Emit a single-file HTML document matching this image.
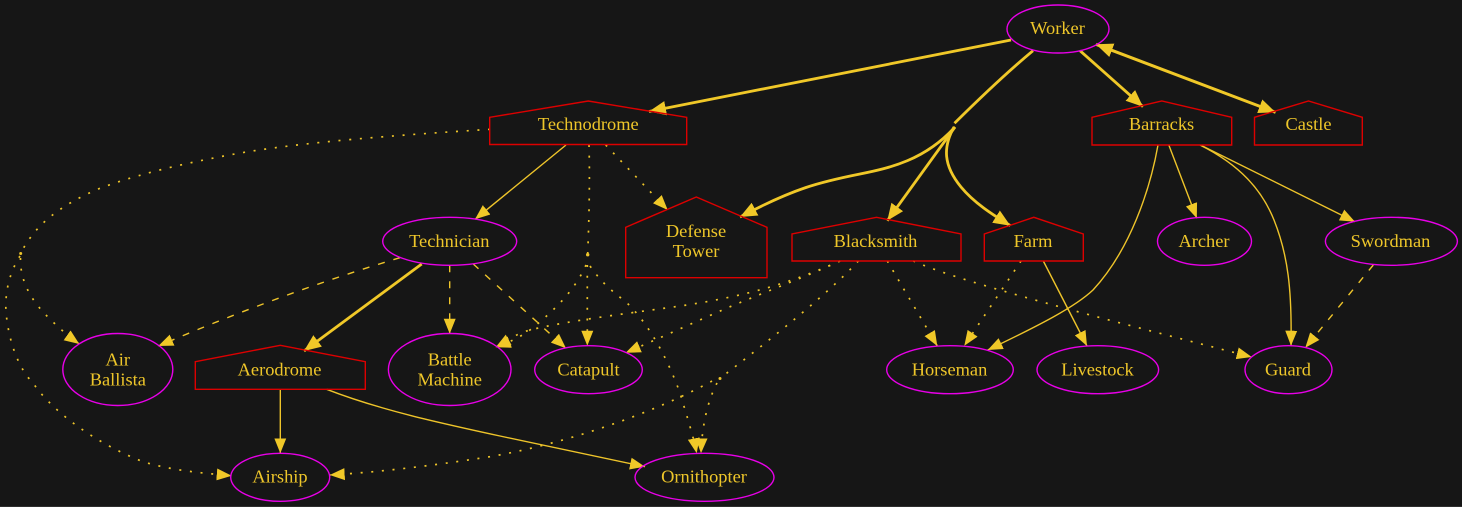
<!DOCTYPE html>
<html>
<head>
<meta charset="utf-8">
<style>
html,body{margin:0;padding:0;background:#161616;width:1462px;height:507px;overflow:hidden}
svg{position:absolute;left:0;top:0;display:block}
text{font-family:"Liberation Serif",serif;font-size:18.4px;fill:#eec62a;text-anchor:middle}
.n{fill:none;stroke:#e800e8;stroke-width:1.4}
.h{fill:none;stroke:#dd0000;stroke-width:1.4}
.e{fill:none;stroke:#eec42a;stroke-width:1.4;marker-end:url(#a)}
.t{fill:none;stroke:#f0c828;stroke-width:2.8;marker-end:url(#b)}
.k{fill:none;stroke:#f0c828;stroke-width:2.8}
.d{stroke-dasharray:7 9}
.o{stroke-dasharray:2 8.7;stroke-width:1.7}
.p{fill:none;stroke:#eec42a;stroke-width:1.7;stroke-dasharray:2 8.7}
</style>
</head>
<body>
<svg width="1462" height="507" viewBox="0 0 1462 507" xmlns="http://www.w3.org/2000/svg">
<defs>
<marker id="a" markerUnits="userSpaceOnUse" markerWidth="18" markerHeight="14" refX="15" refY="6.5" orient="auto"><path d="M0,0.5 L15,6.5 L0,12.5 Z" fill="#f0c828"/></marker>
<marker id="b" markerUnits="userSpaceOnUse" markerWidth="20" markerHeight="16" refX="17" refY="7.5" orient="auto-start-reverse"><path d="M0,0.3 L17,7.5 L0,14.7 Z" fill="#f0c828"/></marker>
</defs>
<rect x="0" y="0" width="1462" height="507" fill="#161616"/>
<rect x="0" y="506" width="1462" height="1" fill="#2e2e2e"/>

<!-- thick edges -->
<path class="t" d="M1011,40 L649,111.5"/>
<path class="k" d="M1033,50.7 C1005,74 980,98 954.5,123.3"/>
<path class="t" d="M955,127 C925,160 890,168 860,174 C820,182 795,188 740,217"/>
<path class="t" d="M955,127 L887.3,220.7"/>
<path class="t" d="M954,127 C943,147 943,165 961,187 C975,204 995,216 1010.4,225.7"/>
<path class="t" d="M1080,50.7 L1143,106.7"/>
<path class="t" style="marker-start:url(#b);stroke-width:3" d="M1096,44.3 L1275.6,112.3"/>
<path class="t" d="M421.7,264 L304,351"/>

<!-- thin solid edges -->
<path class="e" d="M566,145 L475,219.3"/>
<path class="e" d="M1168.8,145 L1196.8,218.3"/>
<path class="e" d="M1200.4,145 L1355,221.7"/>
<path class="e" d="M1200,145 C1240,165 1262,190 1274,220 C1288,255 1292,290 1291,345.7"/>
<path class="e" d="M1158,145 C1150,190 1130,250 1093,290 C1075,307 1040,325 987.7,350"/>
<path class="e" d="M1043.3,261 L1087,346"/>
<path class="e" d="M280.3,389.3 L280.3,453.3"/>
<path class="e" d="M326.7,389.3 C380,410 440,423 500,436 L645,466.7"/>

<!-- dashed edges -->
<path class="e d" d="M400,257.7 Q285,292 158.3,346"/>
<path class="e d" d="M449.7,265.3 L449.7,333.7"/>
<path class="e d" d="M473.3,264 L566,348.3"/>
<path class="e d" d="M1373.3,265 L1305.3,347.7"/>

<!-- dotted edges -->
<path class="p" d="M490,129.3 C400,135 300,142 233,154.3 C170,166 130,177 100,188.3 C60,205 35,225 20.7,253.3"/>
<circle cx="20.7" cy="253.5" r="1.5" fill="#eec42a"/>
<path class="e o" d="M20.5,258 C20,280 30,300 50,319 C58,327 68,336 79.3,344"/>
<path class="e o" d="M20,256 C8,275 5,295 6,312 C9,345 20,370 33,383 C55,415 100,445 143,461.7 C170,470 200,473 231.7,475.7"/>
<path class="p" d="M589,145 C590,180 589,220 587.7,254"/>
<circle cx="587.7" cy="254.7" r="1.7" fill="#eec42a"/>
<path class="e o" d="M586,265 C575,290 555,310 530,330 C520,337 510,342 495.7,347.3"/>
<path class="e o" d="M587.3,265 L587.3,345.7"/>
<path class="e o" d="M590,266 C603,285 615,293 627,303 C650,325 668,360 680,393 C688,420 693,435 696.7,453.3"/>
<path class="e o" d="M605.7,145 L667.7,210"/>
<path class="e o" d="M840,261 C790,283 750,295 687,305 C640,312 570,320 530,330 C515,334 505,342 495.7,347.3"/>
<path class="e o" d="M840,261 C810,275 770,290 727,308 C695,322 660,338 625.7,352.7"/>
<path class="p" d="M858.3,261 C830,292 770,340 720,378.3"/>
<circle cx="720" cy="378.5" r="1.5" fill="#eec42a"/>
<path class="e o" d="M717,383 C708,400 702,425 701,453.3"/>
<path class="e o" d="M712,381 C650,415 560,445 488,457 C430,466 380,472 329.7,475"/>
<path class="e o" d="M887.3,261 L937.3,346"/>
<path class="e o" d="M913.3,261 C960,282 1100,318 1251.7,357"/>
<path class="e o" d="M1021,261 L964.3,345.7"/>

<!-- nodes -->
<ellipse class="n" cx="1058" cy="29" rx="51" ry="24"/>
<text x="1057.5" y="34">Worker</text>
<polygon class="h" points="489.7,144.5 686.7,144.5 686.7,117.3 588.3,101 489.7,117.3"/>
<text x="588.3" y="130">Technodrome</text>
<polygon class="h" points="1092,145 1231.7,145 1231.7,117.3 1161.8,101 1092,117.3"/>
<text x="1161.5" y="130">Barracks</text>
<polygon class="h" points="1254.5,145 1362.3,145 1362.3,117.3 1308.5,101 1254.5,117.3"/>
<text x="1308.5" y="130">Castle</text>
<ellipse class="n" cx="449.7" cy="241.3" rx="67" ry="24"/>
<text x="449.3" y="247">Technician</text>
<polygon class="h" points="625.7,277.7 767,277.7 767,227.3 696.3,197 625.7,227.3"/>
<text x="696" y="237">Defense</text>
<text x="696" y="257">Tower</text>
<polygon class="h" points="792,261 961,261 961,234 876.5,217.3 792,234"/>
<text x="875.5" y="247">Blacksmith</text>
<polygon class="h" points="984.3,261 1083.3,261 1083.3,234 1033.8,217.3 984.3,234"/>
<text x="1033" y="247">Farm</text>
<ellipse class="n" cx="1204.5" cy="241.3" rx="47" ry="24"/>
<text x="1204" y="247">Archer</text>
<ellipse class="n" cx="1391.4" cy="241.3" rx="66" ry="24"/>
<text x="1390.5" y="247">Swordman</text>
<ellipse class="n" cx="117.8" cy="369.5" rx="55" ry="36"/>
<text x="117.8" y="365.3">Air</text>
<text x="117.8" y="385.3">Ballista</text>
<polygon class="h" points="195.3,389.3 365.3,389.3 365.3,361.7 280.3,345.3 195.3,361.7"/>
<text x="279.5" y="375.3">Aerodrome</text>
<ellipse class="n" cx="449.7" cy="369.5" rx="61.3" ry="36"/>
<text x="449.7" y="365.3">Battle</text>
<text x="449.7" y="385.3">Machine</text>
<ellipse class="n" cx="588.5" cy="369.7" rx="53.8" ry="24"/>
<text x="588.5" y="375.3">Catapult</text>
<ellipse class="n" cx="950" cy="369.7" rx="63.3" ry="24"/>
<text x="949.5" y="375.3">Horseman</text>
<ellipse class="n" cx="1097.8" cy="369.7" rx="60.8" ry="24"/>
<text x="1097.5" y="375.3">Livestock</text>
<ellipse class="n" cx="1288.5" cy="369.7" rx="43.5" ry="24"/>
<text x="1288" y="375.3">Guard</text>
<ellipse class="n" cx="280.2" cy="477.3" rx="49.5" ry="24"/>
<text x="280" y="482.3">Airship</text>
<ellipse class="n" cx="704.5" cy="477.3" rx="69.5" ry="24"/>
<text x="704" y="482.3">Ornithopter</text>
</svg>
</body>
</html>
